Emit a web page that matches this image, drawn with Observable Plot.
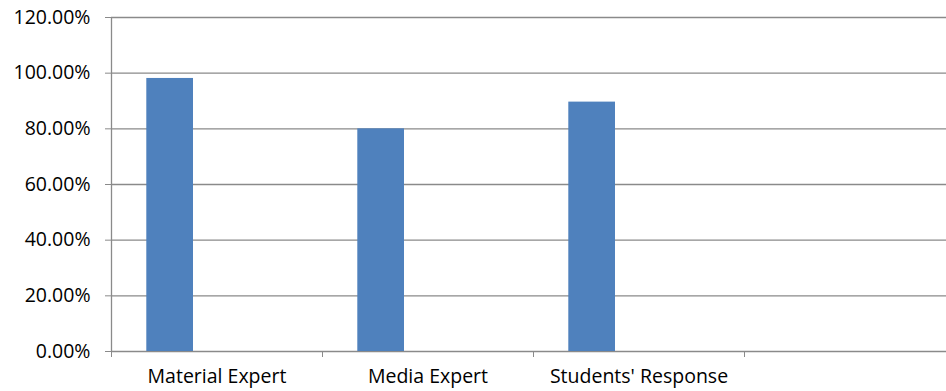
<!DOCTYPE html>
<html>
<head>
<meta charset="utf-8">
<script src="https://cdn.jsdelivr.net/npm/d3@7"></script>
<script src="https://cdn.jsdelivr.net/npm/@observablehq/plot@0.6"></script>
<style>
  html, body { margin: 0; padding: 0; background: #fff; overflow: hidden; }
</style>
</head>
<body>
<div id="chart"></div>
<script>
const categories = ["Material Expert", "Media Expert", "Students' Response", ""];
const values = [0.981, 0.800, 0.896];
const yTicks = [0, 0.2, 0.4, 0.6, 0.8, 1.0, 1.2];

const table = values.map((v, i) => ({category: categories[i], value: v}));

const W = 946, H = 391;
const mL = 111, mR = -9, mT = 17, mB = 40;
const bw = (W - mL - mR) / categories.length;
const grid = "#8a8a8a";

const chart = Plot.plot({
  width: W,
  height: H,
  marginLeft: mL,
  marginRight: mR,
  marginTop: mT,
  marginBottom: mB,
  style: {fontFamily: "'Open Sans', sans-serif", fontSize: "19.5px", color: "#000", background: "#fff"},
  x: {domain: categories, padding: 0},
  y: {domain: [0, 1.2]},
  marks: [
    Plot.ruleY(yTicks, {stroke: grid, strokeWidth: 1.3}),
    Plot.ruleX([categories[0]], {y1: 0, y2: 1.2, dx: -bw / 2, stroke: grid, strokeWidth: 1.3}),
    Plot.barY(table, {x: "category", y: "value", fill: "#4F81BD", insetLeft: 35.3, insetRight: 129}),
    Plot.axisY({ticks: yTicks, tickFormat: d3.format(".2%"), tickSize: 6, tickPadding: 15, stroke: grid, fill: "#000", label: null}),
    Plot.axisX({tickSize: 6, tickFormat: () => "", dx: -bw / 2, stroke: grid, label: null}),
    Plot.axisX({tickSize: 0, tickPadding: 18, fill: "#000", fontSize: "19.5px", label: null})
  ]
});
document.getElementById("chart").appendChild(chart);
</script>
</body>
</html>
